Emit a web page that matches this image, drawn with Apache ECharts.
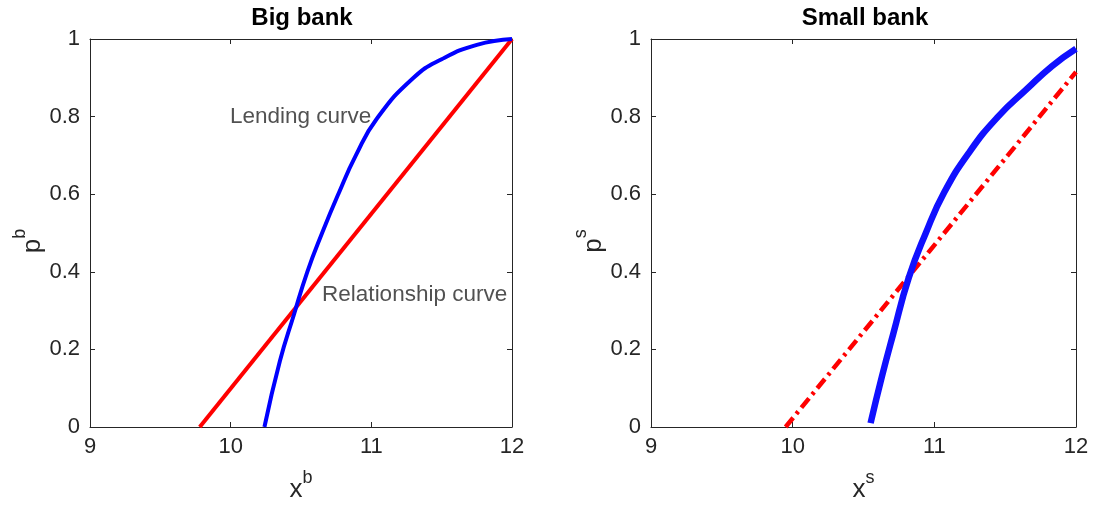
<!DOCTYPE html>
<html>
<head>
<meta charset="utf-8">
<script src="https://cdn.jsdelivr.net/npm/echarts@6/dist/echarts.min.js"></script>
<style>
  html, body { margin: 0; padding: 0; background: #fff; }
  #main { width: 1094px; height: 508px; }
</style>
</head>
<body>
<div id="main"></div>
<script>
// x ticks and y ticks shared by both panels
const xTicks = [9, 10, 11, 12];
const yTicks = [0, 0.2, 0.4, 0.6, 0.8, 1];

// Big bank
const bigLending = [
  [10.24, 0], [10.35, 0.17], [10.45, 0.29], [10.545, 0.4], [10.65, 0.5],
  [10.765, 0.6], [10.89, 0.7], [11.04, 0.795], [11.3, 0.9], [11.5, 0.948],
  [11.75, 0.985], [12, 1]
];
const bigRelationship = [[9.78, 0], [12, 1]];

// Small bank
const smallLending = [
  [10.55, 0.01], [10.63, 0.13], [10.71, 0.24], [10.82, 0.385], [10.94, 0.5],
  [11.07, 0.605], [11.25, 0.71], [11.45, 0.8], [11.65, 0.87], [11.83, 0.93],
  [12, 0.975]
];
const smallRelationship = [[9.95, 0], [12, 0.915]];

const labelColor = "#262626";
const fontFamily = "Liberation Sans, Arial, sans-serif";

const nameRich = {
  b: { fontSize: 26, fontFamily, color: labelColor, verticalAlign: "bottom", lineHeight: 34 },
  s: { fontSize: 18, fontFamily, color: labelColor, verticalAlign: "top", lineHeight: 34 },
};

function xAxisFor(gridIndex, top, sup) {
  return {
    gridIndex,
    type: "value",
    position: top ? "top" : "bottom",
    min: xTicks[0],
    max: xTicks[xTicks.length - 1],
    interval: 1,
    splitLine: { show: false },
    axisLine: { show: true, onZero: false, lineStyle: { color: labelColor, width: 1 } },
    axisTick: { show: true, inside: true, length: 5, lineStyle: { color: labelColor } },
    axisLabel: top ? { show: false } : {
      color: labelColor, fontSize: 22, fontFamily, margin: 9,
    },
    name: top ? "" : "{b|x}{s|" + sup + "}",
    nameLocation: "middle",
    nameGap: 42,
    nameTextStyle: { color: labelColor, fontFamily, rich: nameRich },
  };
}

function yAxisFor(gridIndex, right, sup) {
  return {
    gridIndex,
    type: "value",
    position: right ? "right" : "left",
    min: yTicks[0],
    max: yTicks[yTicks.length - 1],
    interval: 0.2,
    splitLine: { show: false },
    axisLine: { show: true, onZero: false, lineStyle: { color: labelColor, width: 1 } },
    axisTick: { show: true, inside: true, length: 5, lineStyle: { color: labelColor } },
    axisLabel: right ? { show: false } : {
      color: labelColor, fontSize: 22, fontFamily, margin: 10,
      formatter: (v) => String(Math.round(v * 10) / 10),
    },
    name: right ? "" : "{b|p}{s|" + sup + "}",
    nameLocation: "middle",
    nameGap: 37,
    nameRotate: 90,
    nameTextStyle: { color: labelColor, fontFamily, rich: nameRich, padding: [0, 16, 0, 0] },
  };
}

const chart = echarts.init(document.getElementById("main"), null, { renderer: "canvas" });

const options = {
  animation: false,
  backgroundColor: "#fff",
  title: [
    {
      text: "Big bank", left: 297, top: 1, textAlign: "center",
      textStyle: { fontSize: 24, fontWeight: "bold", color: "#000", fontFamily },
    },
    {
      text: "Small bank", left: 860, top: 1, textAlign: "center",
      textStyle: { fontSize: 24, fontWeight: "bold", color: "#000", fontFamily },
    },
  ],
  grid: [
    { left: 90, top: 39, width: 422, height: 391 },
    { left: 651, top: 39, width: 425, height: 391 },
  ],
  xAxis: [
    xAxisFor(0, false, "b"),
    xAxisFor(0, true, "b"),
    xAxisFor(1, false, "s"),
    xAxisFor(1, true, "s"),
  ],
  yAxis: [
    yAxisFor(0, false, "b"),
    yAxisFor(0, true, "b"),
    yAxisFor(1, false, "s"),
    yAxisFor(1, true, "s"),
  ],
  series: [
    {
      name: "Relationship curve (big)",
      type: "line",
      xAxisIndex: 0, yAxisIndex: 0,
      data: bigRelationship,
      showSymbol: false,
      lineStyle: { color: "#ff0000", width: 4 },
      z: 3,
    },
    {
      name: "Lending curve (big)",
      type: "line",
      xAxisIndex: 0, yAxisIndex: 0,
      data: bigLending,
      smooth: 0.5,
      showSymbol: false,
      lineStyle: { color: "#0000ff", width: 4 },
      z: 4,
    },
    {
      // text annotations on the big bank panel
      type: "scatter",
      xAxisIndex: 0, yAxisIndex: 0,
      symbolSize: 0,
      silent: true,
      data: [
        { value: [11.0, 0.8], label: { show: true, position: "left", distance: 0, formatter: "Lending curve" } },
        { value: [10.65, 0.34], label: { show: true, position: "right", distance: 0, formatter: "Relationship curve" } },
      ],
      label: { color: labelColor, fontSize: 22.5, fontFamily },
      z: 5,
    },
    {
      name: "Relationship curve (small)",
      type: "line",
      xAxisIndex: 2, yAxisIndex: 2,
      data: smallRelationship,
      showSymbol: false,
      lineStyle: { color: "#ff0000", width: 4.5, type: [12, 5, 3, 5] },
      z: 3,
    },
    {
      name: "Lending curve (small)",
      type: "line",
      xAxisIndex: 2, yAxisIndex: 2,
      data: smallLending,
      smooth: 0.5,
      showSymbol: false,
      lineStyle: { color: "#1010ff", width: 6.5 },
      z: 4,
    },
  ],
};

chart.setOption(options);
</script>
</body>
</html>
